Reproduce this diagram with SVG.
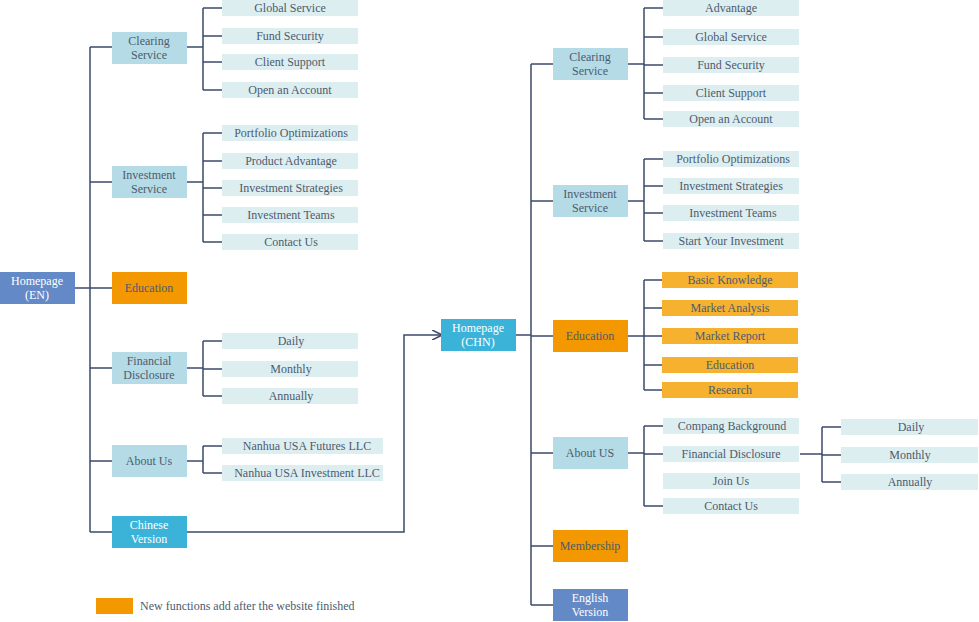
<svg xmlns="http://www.w3.org/2000/svg" width="979" height="622" viewBox="0 0 979 622">
<defs>
<style>
text{font-family:"Liberation Serif",serif;font-size:12px;fill:#4d5b6e;text-anchor:middle;dominant-baseline:central}
.w{fill:#fff}
.n{fill:#b5dbe6}
.o{fill:#f39800}
.l{fill:#ddeef0}
.y{fill:#f6b22e}
.b{fill:#6389c6}
.c{fill:#3bb3d9}
.ln{fill:none;stroke:#3b4a6b;stroke-width:1.5}
</style>
<marker id="ar" viewBox="0 0 10 10" refX="9" refY="5" markerWidth="7" markerHeight="7" orient="auto"><path d="M0,0L10,5L0,10" fill="none" stroke="#3b4a6b" stroke-width="1.5"/></marker>
</defs>
<rect width="979" height="622" fill="#fff"/>
<g id="connectors" class="ln">
<path d="M75,288H90M90,47V532M90,47H112M90,182H112M90,288H112M90,368H112M90,461H112M90,532H112"/>
<path d="M187,47H203M203,8V90M203,8H222M203,36H222M203,62H222M203,90H222"/>
<path d="M187,182H203M203,133V242M203,133H222M203,161H222M203,188H222M203,215H222M203,242H222"/>
<path d="M187,368H203M203,341V396M203,341H222M203,369H222M203,396H222"/>
<path d="M187,461H203M203,446V473M203,446H222M203,473H222"/>
<path d="M187,532H404V335H441" marker-end="url(#ar)"/>
<path d="M516,335H531M531,64V605M531,64H553M531,201H553M531,336H553M531,453H553M531,546H553M531,605H553"/>
<path d="M628,64H644M644,8V119M644,8H663M644,37H663M644,65H663M644,93H663M644,119H663"/>
<path d="M628,201H644M644,159V241M644,159H663M644,186H663M644,213H663M644,241H663"/>
<path d="M628,336H644M644,280V390M644,280H662M644,308H662M644,336H662M644,365H662M644,390H662"/>
<path d="M628,453H644M644,426V506M644,426H663M644,454H663M644,506H663"/>
<path d="M800,454H822M822,427V482M822,427H841M822,455H841M822,482H841"/>
</g>
<g id="home-en"><rect class="b" x="0" y="272" width="75" height="32"/><text class="w" x="37" y="281">Homepage</text><text class="w" x="37" y="295">(EN)</text></g>
<g id="clearing-en"><rect class="n" x="112" y="32" width="75" height="32"/><text x="149" y="41">Clearing</text><text x="149" y="55">Service</text></g>
<g id="invest-en"><rect class="n" x="112" y="166" width="75" height="32"/><text x="149" y="175">Investment</text><text x="149" y="189">Service</text></g>
<g id="edu-en"><rect class="o" x="112" y="272" width="75" height="32"/><text x="149" y="288">Education</text></g>
<g id="fin-en"><rect class="n" x="112" y="352" width="75" height="32"/><text x="149" y="361">Financial</text><text x="149" y="375">Disclosure</text></g>
<g id="about-en"><rect class="n" x="112" y="445" width="75" height="32"/><text x="149" y="461">About Us</text></g>
<g id="chinese"><rect class="c" x="112" y="516" width="75" height="32"/><text class="w" x="149" y="525">Chinese</text><text class="w" x="149" y="539">Version</text></g>
<g id="leaves-en">
<g id="e1"><rect class="l" x="222" y="0" width="136" height="16"/><text x="290" y="8">Global Service</text></g>
<g id="e2"><rect class="l" x="222" y="28" width="136" height="16"/><text x="290" y="36">Fund Security</text></g>
<g id="e3"><rect class="l" x="222" y="54" width="136" height="16"/><text x="290" y="62">Client Support</text></g>
<g id="e4"><rect class="l" x="222" y="82" width="136" height="16"/><text x="290" y="90">Open an Account</text></g>
<g id="e5"><rect class="l" x="222" y="125" width="136" height="16"/><text x="291" y="133">Portfolio Optimizations</text></g>
<g id="e6"><rect class="l" x="222" y="153" width="136" height="16"/><text x="291" y="161">Product Advantage</text></g>
<g id="e7"><rect class="l" x="222" y="180" width="136" height="16"/><text x="291" y="188">Investment Strategies</text></g>
<g id="e8"><rect class="l" x="222" y="207" width="136" height="16"/><text x="291" y="215">Investment Teams</text></g>
<g id="e9"><rect class="l" x="222" y="234" width="136" height="16"/><text x="291" y="242">Contact Us</text></g>
<g id="e10"><rect class="l" x="222" y="333" width="136" height="16"/><text x="291" y="341">Daily</text></g>
<g id="e11"><rect class="l" x="222" y="361" width="136" height="16"/><text x="291" y="369">Monthly</text></g>
<g id="e12"><rect class="l" x="222" y="388" width="136" height="16"/><text x="291" y="396">Annually</text></g>
<g id="e13"><rect class="l" x="222" y="438" width="161" height="16"/><text x="307" y="446">Nanhua USA Futures LLC</text></g>
<g id="e14"><rect class="l" x="222" y="465" width="161" height="16"/><text x="307" y="473">Nanhua USA Investment LLC</text></g>
</g>
<g id="home-chn"><rect class="c" x="441" y="319" width="75" height="32"/><text class="w" x="478" y="328">Homepage</text><text class="w" x="478" y="342">(CHN)</text></g>
<g id="clearing-chn"><rect class="n" x="553" y="48" width="75" height="32"/><text x="590" y="57">Clearing</text><text x="590" y="71">Service</text></g>
<g id="invest-chn"><rect class="n" x="553" y="185" width="75" height="32"/><text x="590" y="194">Investment</text><text x="590" y="208">Service</text></g>
<g id="edu-chn"><rect class="o" x="553" y="320" width="75" height="32"/><text x="590" y="336">Education</text></g>
<g id="about-chn"><rect class="n" x="553" y="437" width="75" height="32"/><text x="590" y="453">About US</text></g>
<g id="member"><rect class="o" x="553" y="530" width="75" height="32"/><text x="590" y="546">Membership</text></g>
<g id="english"><rect class="b" x="553" y="589" width="75" height="32"/><text class="w" x="590" y="598">English</text><text class="w" x="590" y="612">Version</text></g>
<g id="leaves-chn">
<g id="c1"><rect class="l" x="663" y="0" width="136" height="16"/><text x="731" y="8">Advantage</text></g>
<g id="c2"><rect class="l" x="663" y="29" width="136" height="16"/><text x="731" y="37">Global Service</text></g>
<g id="c3"><rect class="l" x="663" y="57" width="136" height="16"/><text x="731" y="65">Fund Security</text></g>
<g id="c4"><rect class="l" x="663" y="85" width="136" height="16"/><text x="731" y="93">Client Support</text></g>
<g id="c5"><rect class="l" x="663" y="111" width="136" height="16"/><text x="731" y="119">Open an Account</text></g>
<g id="c6"><rect class="l" x="663" y="151" width="136" height="16"/><text x="733" y="159">Portfolio Optimizations</text></g>
<g id="c7"><rect class="l" x="663" y="178" width="136" height="16"/><text x="731" y="186">Investment Strategies</text></g>
<g id="c8"><rect class="l" x="663" y="205" width="136" height="16"/><text x="733" y="213">Investment Teams</text></g>
<g id="c9"><rect class="l" x="663" y="233" width="136" height="16"/><text x="731" y="241">Start Your Investment</text></g>
<g id="c10"><rect class="y" x="662" y="272" width="136" height="16"/><text x="730" y="280">Basic Knowledge</text></g>
<g id="c11"><rect class="y" x="662" y="300" width="136" height="16"/><text x="730" y="308">Market Analysis</text></g>
<g id="c12"><rect class="y" x="662" y="328" width="136" height="16"/><text x="730" y="336">Market Report</text></g>
<g id="c13"><rect class="y" x="662" y="357" width="136" height="16"/><text x="730" y="365">Education</text></g>
<g id="c14"><rect class="y" x="662" y="382" width="136" height="16"/><text x="730" y="390">Research</text></g>
<g id="c15"><rect class="l" x="663" y="418" width="136" height="16"/><text x="732" y="426">Compang Background</text></g>
<g id="c16"><rect class="l" x="663" y="446" width="136" height="16"/><text x="731" y="454">Financial Disclosure</text></g>
<g id="c17"><rect class="l" x="663" y="473" width="137" height="16"/><text x="731" y="481">Join Us</text></g>
<g id="c18"><rect class="l" x="663" y="498" width="136" height="16"/><text x="731" y="506">Contact Us</text></g>
<g id="c19"><rect class="l" x="841" y="419" width="137" height="16"/><text x="911" y="427">Daily</text></g>
<g id="c20"><rect class="l" x="841" y="447" width="137" height="16"/><text x="910" y="455">Monthly</text></g>
<g id="c21"><rect class="l" x="841" y="474" width="137" height="16"/><text x="910" y="482">Annually</text></g>
</g>
<g id="legend"><rect class="o" x="96" y="598" width="37" height="16"/><text x="140" y="606" style="text-anchor:start">New functions add after the website finished</text></g>
</svg>
